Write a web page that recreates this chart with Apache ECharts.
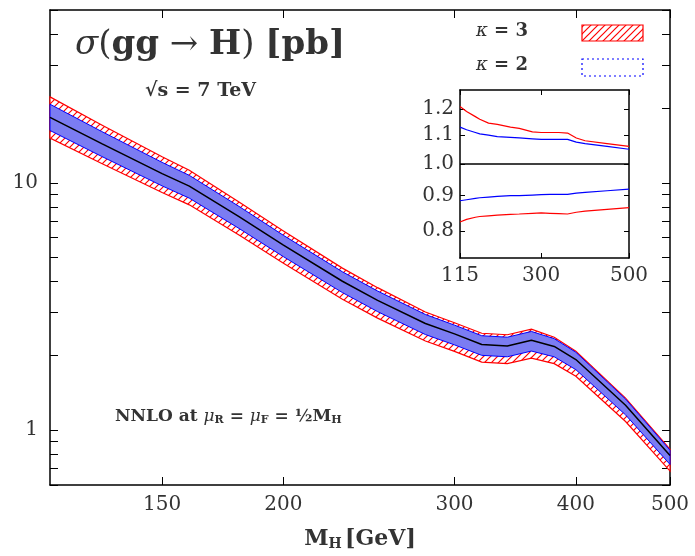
<!DOCTYPE html>
<html><head><meta charset="utf-8">
<script src="https://cdn.jsdelivr.net/npm/echarts@6/dist/echarts.min.js"></script>
<style>body{margin:0}#c{width:695px;height:556px}</style>
</head><body><div id="c"></div>
<script>
// Higgs mass points [GeV] and central NNLO cross section [pb]
var mass = [115, 130, 150, 160, 180, 200, 230, 250, 280, 300, 320, 340, 360, 380, 400, 450, 500];
var xsec = [18.4, 14.4, 10.9, 9.7, 7.3, 5.6, 4.0, 3.35, 2.7, 2.45, 2.22, 2.19, 2.31, 2.18, 1.93, 1.26, 0.79];
// scale-variation ratios (kappa = 3 red, kappa = 2 blue)
var k3up = [1.21, 1.19, 1.17, 1.16, 1.145, 1.14, 1.13, 1.125, 1.112, 1.11, 1.11, 1.11, 1.108, 1.09, 1.08, 1.07, 1.06];
var k3dn = [0.825, 0.832, 0.838, 0.84, 0.842, 0.844, 0.846, 0.847, 0.849, 0.85, 0.849, 0.848, 0.847, 0.852, 0.855, 0.86, 0.865];
var k2up = [1.13, 1.12, 1.11, 1.105, 1.1, 1.095, 1.092, 1.09, 1.087, 1.085, 1.085, 1.085, 1.085, 1.075, 1.07, 1.06, 1.05];
var k2dn = [0.885, 0.888, 0.892, 0.894, 0.896, 0.898, 0.9, 0.9, 0.902, 0.903, 0.904, 0.904, 0.904, 0.908, 0.91, 0.915, 0.92];
var xTicks = [150, 200, 300, 400, 500];
var yTicks = [1, 10];
var yMinor = [0.6, 0.7, 0.8, 0.9, 1, 2, 3, 4, 5, 6, 7, 8, 9, 10, 20, 30, 40, 50];
var insetXTicks = [115, 300, 500];
var insetYTicks = [0.8, 0.9, 1.0, 1.1, 1.2];

var font = '"DejaVu Serif", "Liberation Serif", serif';

function hatch(bg) {
	var c = document.createElement('canvas');
	c.width = 7; c.height = 7;
	var g = c.getContext('2d');
	g.fillStyle = bg; g.fillRect(0, 0, 7, 7);
	g.strokeStyle = '#ff0000'; g.lineWidth = 1.2;
	g.beginPath();
	g.moveTo(-1, 8); g.lineTo(8, -1);
	g.moveTo(-1, 1); g.lineTo(1, -1);
	g.moveTo(6, 8); g.lineTo(8, 6);
	g.stroke();
	return c;
}
var hatchImg = hatch('#ffffff');

function scaled(r) { return mass.map(function (m, i) { return [m, xsec[i] * r[i]]; }); }
function bandPoly(api, up, dn) {
	var pts = [];
	up.forEach(function (p) { pts.push(api.coord(p)); });
	dn.slice().reverse().forEach(function (p) { pts.push(api.coord(p)); });
	return pts;
}

var red = { up: scaled(k3up), dn: scaled(k3dn) };
var blue = { up: scaled(k2up), dn: scaled(k2dn) };

function axisCommon(extra) {
	var o = {
		axisLine: { onZero: false, lineStyle: { color: '#000', width: 1.5 } },
		axisTick: { inside: true, length: 8, lineStyle: { color: '#000' } },
		splitLine: { show: false },
		axisLabel: { color: '#333', fontFamily: font, fontSize: 20 }
	};
	for (var k in extra) o[k] = extra[k];
	return o;
}

var chart = echarts.init(document.getElementById('c'));
var option = {
	animation: false,
	grid: [
		{ left: 50, right: 25, top: 10, bottom: 68 },
		{ left: 460, right: 66, top: 90, bottom: 298, backgroundColor: '#fff', show: true, borderWidth: 0 }
	],
	xAxis: [
		axisCommon({ type: 'log', min: 115, max: 500, gridIndex: 0, position: 'bottom',
			axisTick: { inside: true, length: 8, customValues: xTicks, lineStyle: { color: '#000' } },
			axisLabel: { customValues: xTicks, color: '#333', fontFamily: font, fontSize: 20, margin: 10 },
			name: '{b|M}{s|H} {b|[GeV]}', nameLocation: 'middle', nameGap: 42,
			nameTextStyle: { rich: {
				b: { fontFamily: font, fontWeight: 'bold', fontSize: 22, color: '#333' },
				s: { fontFamily: font, fontWeight: 'bold', fontSize: 14, color: '#333', verticalAlign: 'bottom', padding: [10, 0, 0, 0] } } } }),
		axisCommon({ type: 'log', min: 115, max: 500, gridIndex: 0, position: 'top',
			axisTick: { inside: true, length: 8, customValues: xTicks, lineStyle: { color: '#000' } },
			axisLabel: { show: false } }),
		axisCommon({ type: 'value', min: 115, max: 500, gridIndex: 1, position: 'bottom',
			axisTick: { inside: true, length: 5, customValues: insetXTicks, lineStyle: { color: '#000' } },
			axisLabel: { customValues: insetXTicks, color: '#333', fontFamily: font, fontSize: 20, margin: 8 } }),
		axisCommon({ type: 'value', min: 115, max: 500, gridIndex: 1, position: 'top',
			axisTick: { inside: true, length: 5, customValues: insetXTicks, lineStyle: { color: '#000' } },
			axisLabel: { show: false } })
	],
	yAxis: [
		axisCommon({ type: 'log', min: 0.6, max: 50, gridIndex: 0, position: 'left',
			axisTick: { inside: true, length: 8, customValues: yMinor, lineStyle: { color: '#000' } },
			axisLabel: { customValues: yTicks, color: '#333', fontFamily: font, fontSize: 20, margin: 12 } }),
		axisCommon({ type: 'log', min: 0.6, max: 50, gridIndex: 0, position: 'right',
			axisTick: { inside: true, length: 8, customValues: yMinor, lineStyle: { color: '#000' } },
			axisLabel: { show: false } }),
		axisCommon({ type: 'log', min: 0.732, max: 1.278, gridIndex: 1, position: 'left',
			axisTick: { inside: true, length: 5, customValues: insetYTicks, lineStyle: { color: '#000' } },
			axisLabel: { customValues: insetYTicks, color: '#333', fontFamily: font, fontSize: 20, margin: 6,
				formatter: function (v) { return (+v).toFixed(1); } } }),
		axisCommon({ type: 'log', min: 0.732, max: 1.278, gridIndex: 1, position: 'right',
			axisTick: { inside: true, length: 5, customValues: insetYTicks, lineStyle: { color: '#000' } },
			axisLabel: { show: false } })
	],
	series: [
		{
			type: 'custom', xAxisIndex: 0, yAxisIndex: 0, data: [[200, 5]], z: 1,
			renderItem: function (params, api) {
				return { type: 'group', children: [
					{ type: 'polygon', shape: { points: bandPoly(api, red.up, red.dn) },
						style: { fill: { image: hatchImg, repeat: 'repeat' }, stroke: '#ff0000', lineWidth: 1.2 } },
					{ type: 'polygon', shape: { points: bandPoly(api, blue.up, blue.dn) },
						style: { fill: '#7b7cf2', stroke: '#0000ff', lineWidth: 1 } }
				] };
			}
		},
		{ type: 'line', xAxisIndex: 0, yAxisIndex: 0, z: 3, symbol: 'none',
			data: mass.map(function (m, i) { return [m, xsec[i]]; }), lineStyle: { color: '#000', width: 1.5 } },
		{ type: 'line', xAxisIndex: 2, yAxisIndex: 2, symbol: 'none', data: [[115, 1], [500, 1]], lineStyle: { color: '#000', width: 1.5 } },
		{ type: 'line', xAxisIndex: 2, yAxisIndex: 2, symbol: 'none', data: mass.map(function (m, i) { return [m, k3up[i]]; }), lineStyle: { color: '#ff0000', width: 1.2 } },
		{ type: 'line', xAxisIndex: 2, yAxisIndex: 2, symbol: 'none', data: mass.map(function (m, i) { return [m, k3dn[i]]; }), lineStyle: { color: '#ff0000', width: 1.2 } },
		{ type: 'line', xAxisIndex: 2, yAxisIndex: 2, symbol: 'none', data: mass.map(function (m, i) { return [m, k2up[i]]; }), lineStyle: { color: '#0000ff', width: 1.2 } },
		{ type: 'line', xAxisIndex: 2, yAxisIndex: 2, symbol: 'none', data: mass.map(function (m, i) { return [m, k2dn[i]]; }), lineStyle: { color: '#0000ff', width: 1.2 } }
	],
	graphic: [
		{ type: 'text', left: 75, top: 28, style: { text: '{i|σ}{r|(}{b|gg}{r| → }{b|H}{r|) }{b|[pb]}', rich: {
			i: { fontFamily: font, fontStyle: 'italic', fontSize: 34, fill: '#333' },
			r: { fontFamily: font, fontSize: 34, fill: '#333' },
			b: { fontFamily: font, fontWeight: 'bold', fontSize: 34, fill: '#333' } } } },
		{ type: 'text', left: 145, top: 82, style: { text: '√s = 7 TeV', fontFamily: font, fontWeight: 'bold', fontSize: 19, fill: '#333' } },
		{ type: 'text', left: 115, top: 408, style: { text: '{b|NNLO at }{i|μ}{s|R}{b| = }{i|μ}{s|F}{b| = ½M}{s|H}', rich: {
			b: { fontFamily: font, fontWeight: 'bold', fontSize: 17, fill: '#333' },
			i: { fontFamily: font, fontStyle: 'italic', fontSize: 17, fill: '#333' },
			s: { fontFamily: font, fontWeight: 'bold', fontSize: 11, fill: '#333', padding: [8, 0, 0, 0] } } } },
		{ type: 'text', left: 476, top: 22, style: { text: '{i|κ}{b| = 3}', rich: {
			i: { fontFamily: font, fontStyle: 'italic', fontSize: 18, fill: '#333' },
			b: { fontFamily: font, fontWeight: 'bold', fontSize: 18, fill: '#333' } } } },
		{ type: 'text', left: 476, top: 56, style: { text: '{i|κ}{b| = 2}', rich: {
			i: { fontFamily: font, fontStyle: 'italic', fontSize: 18, fill: '#333' },
			b: { fontFamily: font, fontWeight: 'bold', fontSize: 18, fill: '#333' } } } },
		{ type: 'rect', shape: { x: 582, y: 25, width: 61, height: 16 },
			style: { fill: { image: hatchImg, repeat: 'repeat' }, stroke: '#ff0000', lineWidth: 1.2 } },
		{ type: 'rect', shape: { x: 582, y: 59, width: 61, height: 17 },
			style: { fill: '#fff', stroke: '#0000ff', lineWidth: 1.2, lineDash: [2, 3] } }
	]
};
chart.setOption(option);
</script>
</body></html>
